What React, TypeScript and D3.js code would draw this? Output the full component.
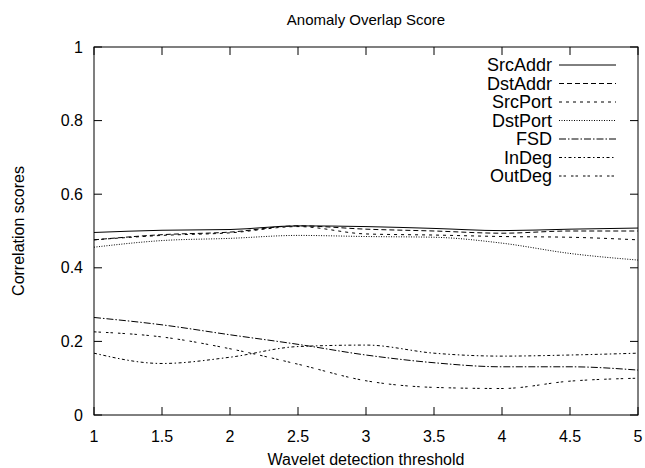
import React from "react";
import * as d3 from "d3";

const thresholds = [1, 1.5, 2, 2.5, 3, 3.5, 4, 4.5, 5];
const xTicks = [1, 1.5, 2, 2.5, 3, 3.5, 4, 4.5, 5];
const yTicks = [0, 0.2, 0.4, 0.6, 0.8, 1];

const srcAddr = [0.496, 0.502, 0.504, 0.514, 0.512, 0.507, 0.501, 0.505, 0.508];
const dstAddr = [0.476, 0.49, 0.497, 0.514, 0.505, 0.5, 0.494, 0.5, 0.5];
const srcPort = [0.476, 0.488, 0.495, 0.512, 0.492, 0.489, 0.485, 0.483, 0.476];
const dstPort = [0.456, 0.474, 0.48, 0.488, 0.485, 0.483, 0.467, 0.439, 0.421];
const fsd = [0.265, 0.245, 0.218, 0.192, 0.163, 0.142, 0.131, 0.131, 0.122];
const inDeg = [0.168, 0.14, 0.157, 0.186, 0.19, 0.168, 0.16, 0.163, 0.168];
const outDeg = [0.226, 0.212, 0.18, 0.138, 0.093, 0.075, 0.072, 0.092, 0.1];

const seriesNames = ["SrcAddr", "DstAddr", "SrcPort", "DstPort", "FSD", "InDeg", "OutDeg"];
const seriesValues = [srcAddr, dstAddr, srcPort, dstPort, fsd, inDeg, outDeg];
const dashes = ["none", "5,3", "3,4", "1,1.5", "7,2,1.5,2", "3,2.5,1.5,2.5", "2.5,2,2.5,5"];

const W = 645;
const H = 468;
const left = 94;
const right = 638;
const top = 47;
const bottom = 415;
const font = "'Liberation Sans', Arial, sans-serif";

export default function App() {
  const x = d3.scaleLinear().domain([1, 5]).range([left, right]);
  const y = d3.scaleLinear().domain([0, 1]).range([bottom, top]);
  const line = d3
    .line<number>()
    .x((_, i) => x(thresholds[i]))
    .y((d) => y(d))
    .curve(d3.curveMonotoneX);
  const tl = 8;
  const legendX = 552;
  const legendY0 = 65;
  const legendDy = 18.5;
  return (
    <svg
      width={W}
      height={H}
      style={{ position: "absolute", left: 0, top: 0, background: "#fff" }}
      fontFamily={font}
    >
      <rect x={0} y={0} width={W} height={H} fill="#fff" />
      <text x={(left + right) / 2} y={25} textAnchor="middle" fontSize={15}>
        Anomaly Overlap Score
      </text>
      {yTicks.map((t) => (
        <g key={"y" + t}>
          <line x1={left} x2={left + tl} y1={y(t)} y2={y(t)} stroke="#000" />
          <line x1={right} x2={right - tl} y1={y(t)} y2={y(t)} stroke="#000" />
          <text x={left - 11} y={y(t)} dy="0.35em" textAnchor="end" fontSize={16}>
            {String(t)}
          </text>
        </g>
      ))}
      {xTicks.map((t) => (
        <g key={"x" + t}>
          <line x1={x(t)} x2={x(t)} y1={bottom} y2={bottom - tl} stroke="#000" />
          <line x1={x(t)} x2={x(t)} y1={top} y2={top + tl} stroke="#000" />
          <text x={x(t)} y={442} textAnchor="middle" fontSize={16}>
            {String(t)}
          </text>
        </g>
      ))}
      <text x={(left + right) / 2} y={465} textAnchor="middle" fontSize={16}>
        Wavelet detection threshold
      </text>
      <text
        transform={`translate(24,${(top + bottom) / 2}) rotate(-90)`}
        textAnchor="middle"
        fontSize={16}
      >
        Correlation scores
      </text>
      {seriesValues.map((vals, i) => (
        <path
          key={"s" + i}
          d={line(vals) || ""}
          fill="none"
          stroke="#000"
          strokeWidth={1}
          strokeDasharray={dashes[i]}
        />
      ))}
      {seriesNames.map((n, i) => (
        <g key={"l" + i}>
          <text x={legendX} y={legendY0 + i * legendDy} dy="0.35em" textAnchor="end" fontSize={18}>
            {n}
          </text>
          <line
            x1={559}
            x2={616}
            y1={legendY0 + i * legendDy}
            y2={legendY0 + i * legendDy}
            stroke="#000"
            strokeDasharray={dashes[i]}
          />
        </g>
      ))}
      <rect x={left} y={top} width={right - left} height={bottom - top} fill="none" stroke="#000" />
    </svg>
  );
}
